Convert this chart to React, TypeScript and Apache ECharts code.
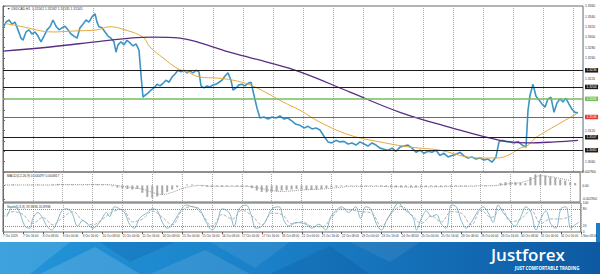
import React, { useEffect, useRef } from "react";
import * as echarts from "echarts";

// ---- x axis tick labels (H1, one label every 20 px / 16 bars) ----
const xLabels = [
  "7 Oct 2019", "7 Oct 16:00", "8 Oct 08:00", "9 Oct 00:00", "9 Oct 16:00",
  "10 Oct 08:00", "11 Oct 00:00", "11 Oct 16:00", "14 Oct 08:00", "15 Oct 00:00",
  "15 Oct 16:00", "16 Oct 08:00", "17 Oct 00:00", "17 Oct 16:00", "18 Oct 08:00",
  "21 Oct 00:00", "21 Oct 16:00", "22 Oct 08:00", "23 Oct 00:00", "23 Oct 16:00",
  "24 Oct 08:00", "25 Oct 00:00", "25 Oct 16:00", "28 Oct 08:00", "29 Oct 00:00",
  "29 Oct 16:00", "30 Oct 08:00", "31 Oct 00:00", "31 Oct 16:00", "1 Nov 08:00",
];

// ---- price (close) ----
const pricePos = [
  0, 3, 6, 9, 12, 15, 18, 20, 23, 26,
  29, 32, 35, 38, 41, 44, 47, 50, 53, 56,
  59, 62, 65, 68, 71, 74, 77, 80, 83, 86,
  89, 92, 94, 96, 99, 102, 105, 108, 111, 113,
  115, 118, 121, 124, 127, 130, 133, 136, 138, 140,
  142, 145, 148, 151, 154, 157, 160, 163, 166, 169,
  172, 175, 178, 181, 184, 187, 190, 193, 196, 198,
  201, 204, 207, 210, 213, 216, 219, 222, 225, 228,
  230, 233, 236, 239, 242, 245, 248, 251, 254, 257,
  261, 265, 269, 273, 277, 281, 285, 289, 293, 297,
  301, 305, 309, 313, 317, 321, 325, 329, 333, 337,
  341, 345, 349, 353, 357, 361, 365, 369, 373, 377,
  381, 385, 389, 393, 397, 401, 405, 409, 413, 417,
  421, 425, 429, 433, 437, 441, 445, 449, 453, 457,
  461, 465, 469, 473, 477, 481, 485, 489, 493, 496,
  499, 503, 507, 511, 515, 519, 523, 525, 527, 530,
  533, 536, 539, 542, 545, 548, 551, 554, 557, 560,
  563, 566, 569, 572, 575,
];
const priceVals = [
  1.3318, 1.3329, 1.3333, 1.3325, 1.3329, 1.3314, 1.3298, 1.3294, 1.3310, 1.3314,
  1.3306, 1.3310, 1.3302, 1.3291, 1.3302, 1.3314, 1.3320, 1.3333, 1.3321, 1.3314,
  1.3318, 1.3321, 1.3314, 1.3306, 1.3302, 1.3298, 1.3318, 1.3325, 1.3333, 1.3329,
  1.3339, 1.3345, 1.3329, 1.3320, 1.3318, 1.3310, 1.3302, 1.3298, 1.3291, 1.3271,
  1.3285, 1.3291, 1.3285, 1.3294, 1.3289, 1.3283, 1.3287, 1.3275, 1.3227, 1.3184,
  1.3188, 1.3192, 1.3198, 1.3202, 1.3209, 1.3206, 1.3211, 1.3217, 1.3213, 1.3223,
  1.3229, 1.3236, 1.3233, 1.3236, 1.3231, 1.3235, 1.3231, 1.3236, 1.3233, 1.3206,
  1.3202, 1.3206, 1.3204, 1.3208, 1.3209, 1.3213, 1.3217, 1.3225, 1.3231, 1.3217,
  1.3198, 1.3202, 1.3208, 1.3209, 1.3206, 1.3211, 1.3213, 1.3188, 1.3163, 1.3144,
  1.3146, 1.3142, 1.3146, 1.3144, 1.3148, 1.3142, 1.3144, 1.3138, 1.3132, 1.3130,
  1.3125, 1.3128, 1.3123, 1.3125, 1.3121, 1.3109, 1.3098, 1.3096, 1.3101, 1.3098,
  1.3099, 1.3094, 1.3096, 1.3092, 1.3098, 1.3094, 1.3090, 1.3096, 1.3092, 1.3086,
  1.3084, 1.3082, 1.3086, 1.3080, 1.3088, 1.3090, 1.3092, 1.3086, 1.3078, 1.3082,
  1.3076, 1.3080, 1.3078, 1.3082, 1.3072, 1.3076, 1.3069, 1.3072, 1.3074, 1.3078,
  1.3071, 1.3067, 1.3069, 1.3065, 1.3067, 1.3063, 1.3065, 1.3059, 1.3069, 1.3098,
  1.3101, 1.3099, 1.3098, 1.3096, 1.3099, 1.3092, 1.3088, 1.3159, 1.3188, 1.3209,
  1.3186, 1.3179, 1.3171, 1.3165, 1.3181, 1.3184, 1.3155, 1.3173, 1.3181, 1.3175,
  1.3182, 1.3171, 1.3161, 1.3155, 1.3154,
];

// ---- moving averages ----
const maFastPos = [0, 17, 50, 72, 94, 107, 122, 140, 147, 160, 174, 184, 197, 214, 230, 247, 264, 280, 297, 317, 347, 377, 407, 437, 464, 480, 494, 507, 517, 524, 532, 540, 557, 575];
const maFastVals = [1.3327, 1.3321, 1.3310, 1.3312, 1.3314, 1.3320, 1.3314, 1.3300, 1.3281, 1.3260, 1.3240, 1.3233, 1.3223, 1.3221, 1.3217, 1.3208, 1.3192, 1.3175, 1.3159, 1.3136, 1.3111, 1.3098, 1.3088, 1.3082, 1.3069, 1.3067, 1.3067, 1.3074, 1.3086, 1.3090, 1.3105, 1.3115, 1.3134, 1.3154];
const maSlowPos = [0, 47, 97, 127, 150, 177, 197, 230, 264, 297, 347, 397, 447, 497, 524, 552, 575];
const maSlowVals = [1.3273, 1.3281, 1.3292, 1.3298, 1.3300, 1.3298, 1.3289, 1.3269, 1.3252, 1.3233, 1.3194, 1.3155, 1.3126, 1.3101, 1.3096, 1.3098, 1.3101];

// ---- horizontal levels ----
const levelVals = [1.3236, 1.3204, 1.3181, 1.3146, 1.3107, 1.3082];
const levelColors = ["#1c1c1c", "#1c1c1c", "#74bd62", "#e03a3a", "#1c1c1c", "#1c1c1c"];
const currentPrice = 1.3154;

// ---- MACD (values in 0.0001) ----
const macdStep = 5;
const macdHist = [
  1, 1, 2, 1, 0, 1, 2, 2, 1, 1, 2,
  3, 3, 2, 2, 1,
  1, 2, 3, 3, 2, 1,
  -2, -5, -7, -8, -9, -8,
  -16, -25, -27, -24, -20, -14, -9,
  -4, 0, 2, 2, 1,
  -2, -3, -3, -2, -3, -2, -1, -2, -3, -2,
  -6, -11, -14, -15, -14, -13, -11, -10, -9, -8,
  -9, -10, -10, -9, -8, -6, -4, -3,
  -2, -2, -1, -1, -2, -2, -1, -1, -2,
  -3, -4, -4, -4, -3, -4, -4, -3, -3, -2,
  -3, -3, -2, -3, -2, -2, -2, -1, -1, -1, -2, -1, -1,
  5, 7, 8, 7, 6, 5,
  18, 24, 23, 21, 19, 16, 13, 10, 7, 5,
];
const signalStep = 10;
const macdSignal = [
  1, 1, 1, 1, 1, 1, 2, 2, 2, 2,
  2, 1, -2, -5, -8, -15, -20, -15, -7, -2,
  0, -2, -2, -2, -2, -3, -7, -11, -13, -12,
  -10, -9, -8, -6, -4, -2, -2, -2, -2, -3,
  -3, -4, -3, -3, -3, -2, -2, -2, -1, -1,
  1, 4, 6, 12, 21, 19, 15, 10,
];
const macdLabelVals = [0.0029, 0, -0.0029];

// ---- Stochastic ----
const stochKPos = [
  4, 10, 15, 22, 27, 30, 35, 40, 44, 49,
  54, 59, 64, 69, 75, 80, 85, 90, 97, 104,
  107, 112, 117, 122, 127, 132, 137, 145, 150, 155,
  160, 165, 170, 177, 184, 190, 197, 204, 210, 215,
  220, 227, 232, 237, 244, 249, 254, 260, 265, 270,
  277, 282, 287, 294, 304, 310, 317, 324, 329, 334,
  340, 347, 354, 359, 364, 369, 375, 380, 385, 392,
  397, 402, 407, 412, 415, 420, 425, 430, 435, 440,
  445, 450, 455, 460, 465, 470, 477, 482, 487, 492,
  497, 502, 507, 514, 519, 525, 530, 535, 540, 545,
  550, 555, 560, 565, 570, 575, 578,
];
const stochKVals = [
  53, 87, 80, 20, 13, 47, 67, 47, 20, 7,
  33, 73, 80, 67, 20, 40, 27, 13, 33, 67,
  53, 87, 80, 67, 27, 13, 47, 67, 80, 73,
  33, 13, 27, 67, 93, 87, 80, 33, 7, 33,
  80, 67, 20, 80, 93, 60, 13, 20, 47, 80,
  87, 40, 20, 33, 27, 13, 27, 7, 53, 73,
  87, 67, 87, 47, 87, 80, 27, 7, 40, 80,
  100, 80, 67, 47, 7, 47, 73, 53, 60, 27,
  13, 93, 87, 40, 13, 33, 73, 87, 67, 33,
  93, 67, 47, 20, 47, 87, 67, 7, 47, 73,
  27, 13, 80, 87, 13, 27, 33,
];
const stochDStep = 10;
const stochDVals = [
  50, 70, 60, 30, 50, 25, 50, 70, 40, 25,
  45, 70, 78, 35, 45, 72, 50, 25, 75, 88,
  60, 20, 60, 45, 75, 55, 25, 65, 60, 28,
  35, 20, 18, 50, 80, 75, 70, 65, 20, 65,
  88, 60, 30, 55, 35, 70, 65, 25, 75, 50,
  80, 35, 45, 75, 30, 45, 45, 55,
];
const stochLabelVals = [100, 80, 20, 0];

const FONT = "'Liberation Sans', Arial, 'DejaVu Sans', sans-serif";
const GRIDLINE = { show: true, lineStyle: { type: "dotted" as const, color: "#a8a8a8", width: 1 } };

function buildOption(): any {
  const zip = (xs: number[], ys: number[], k = 1) => xs.map((x, i) => [x, ys[i] * k]);
  const stepZip = (ys: number[], step: number, k = 1) => ys.map((y, i) => [i * step, y * k]);
  const tiny = { fontFamily: FONT, fontSize: 3.3, color: "#333" };
  const boxed = [...levelVals, currentPrice];
  // like the terminal, a price tick hidden under a level's label box is not printed
  const priceTick = (v: number) => (boxed.some((b) => Math.abs(b - v) < 0.0007) ? "" : v.toFixed(4));

  const gridAxis = (gridIndex: number) => ({
    type: "value", gridIndex, min: 0, max: 580, interval: 30, position: "top",
    axisLabel: { show: false }, axisTick: { show: false }, axisLine: { show: false },
    splitLine: GRIDLINE,
  });

  const levelLabel = (color: string, v: number) => ({
    show: true, position: "end", distance: 2, formatter: v.toFixed(4),
    backgroundColor: color, color: "#fff", fontFamily: FONT, fontSize: 3.3, padding: [1, 1.5, 0.5, 1.5],
  });

  return {
    animation: false,
    backgroundColor: "#ffffff",
    grid: [
      { left: 3, right: 17, top: 6, height: 166, show: true, borderColor: "#6a6a6a", borderWidth: 1, backgroundColor: "transparent" },
      { left: 3, right: 17, top: 172, height: 30, show: true, borderColor: "#6a6a6a", borderWidth: 1, backgroundColor: "transparent" },
      { left: 3, right: 17, top: 203, height: 29, show: true, borderColor: "#6a6a6a", borderWidth: 1, backgroundColor: "transparent" },
    ],
    xAxis: [
      gridAxis(0),
      gridAxis(1),
      gridAxis(2),
      {
        type: "value", gridIndex: 2, min: 0, max: 580, interval: 20, position: "bottom",
        axisLine: { show: false },
        axisTick: { show: true, length: 2, lineStyle: { color: "#555" } },
        splitLine: { show: false },
        axisLabel: {
          ...tiny, fontSize: 3, align: "left", margin: 2, showMinLabel: true, showMaxLabel: true,
          formatter: (v: number) => xLabels[Math.round(v / 20)] ?? "",
        },
      },
    ],
    yAxis: [
      {
        type: "value", gridIndex: 0, position: "right", min: 1.304, max: 1.336, interval: 0.002,
        axisLine: { show: true, lineStyle: { color: "#6a6a6a" } },
        axisTick: { show: true, length: 2, lineStyle: { color: "#6a6a6a" } },
        splitLine: { show: false },
        axisLabel: { ...tiny, margin: 2, showMinLabel: false, formatter: priceTick },
      },
      {
        type: "value", gridIndex: 1, position: "right", min: -0.0036, max: 0.0029,
        axisLine: { show: true, lineStyle: { color: "#6a6a6a" } },
        axisTick: { show: true, length: 2, customValues: macdLabelVals, lineStyle: { color: "#6a6a6a" } },
        splitLine: { show: false },
        axisLabel: {
          ...tiny, margin: 2, customValues: macdLabelVals,
          formatter: (v: number) => (Math.abs(v) < 1e-9 ? "0.00" : v.toFixed(6)),
        },
      },
      {
        type: "value", gridIndex: 2, position: "right", min: 0, max: 100,
        axisLine: { show: true, lineStyle: { color: "#6a6a6a" } },
        axisTick: { show: false },
        splitLine: { show: false },
        axisLabel: { ...tiny, margin: 2, customValues: stochLabelVals, formatter: (v: number) => String(v) },
      },
    ],
    series: [
      {
        name: "USDCAD", type: "line", xAxisIndex: 0, yAxisIndex: 0, data: zip(pricePos, priceVals),
        symbol: "none", lineStyle: { color: "#3d94c4", width: 1.6 }, z: 3,
        markLine: {
          silent: true, symbol: ["none", "none"], animation: false, precision: 4,
          data: [
            ...levelVals.map((v, i) => ({
              yAxis: v,
              lineStyle: { color: levelColors[i], width: i === 2 ? 1.6 : 1.2, type: "solid" },
              label: levelLabel(levelColors[i], v),
            })),
            { yAxis: currentPrice, lineStyle: { opacity: 0, width: 0 }, label: levelLabel("#111111", currentPrice) },
          ],
        },
      },
      {
        name: "MA fast", type: "line", xAxisIndex: 0, yAxisIndex: 0, data: zip(maFastPos, maFastVals),
        symbol: "none", smooth: 0.4, lineStyle: { color: "#e3a93e", width: 1 }, z: 4,
      },
      {
        name: "MA slow", type: "line", xAxisIndex: 0, yAxisIndex: 0, data: zip(maSlowPos, maSlowVals),
        symbol: "none", smooth: 0.4, lineStyle: { color: "#5a2d84", width: 1.3 }, z: 4,
      },
      {
        name: "MACD", type: "bar", xAxisIndex: 1, yAxisIndex: 1, data: stepZip(macdHist, macdStep, 0.0001),
        barWidth: 2, itemStyle: { color: "#a9a9a9" },
      },
      {
        name: "Signal", type: "line", xAxisIndex: 1, yAxisIndex: 1, data: stepZip(macdSignal, signalStep, 0.0001),
        symbol: "none", smooth: 0.4, lineStyle: { color: "#9a9a9a", width: 1, type: "dotted" },
      },
      {
        name: "%K", type: "line", xAxisIndex: 2, yAxisIndex: 2, data: zip(stochKPos, stochKVals),
        symbol: "none", smooth: 0.35, lineStyle: { color: "#86b7c9", width: 1 },
        markLine: {
          silent: true, symbol: ["none", "none"], animation: false, label: { show: false },
          lineStyle: { color: "#8a8a8a", type: "dotted", width: 1 },
          data: [{ yAxis: 80 }, { yAxis: 20 }],
        },
      },
      {
        name: "%D", type: "line", xAxisIndex: 2, yAxisIndex: 2, data: stepZip(stochDVals, stochDStep),
        symbol: "none", smooth: 0.4, lineStyle: { color: "#a0a0a0", width: 0.8, type: "dashed" },
      },
    ],
    graphic: [
      { type: "text", x: 7, y: 7, style: { text: "\u25BC USDCAD,H1  1.31562 1.31582 1.31535 1.31545", fill: "#333", fontFamily: FONT, fontSize: 3.3, verticalAlign: "top" } },
      { type: "text", x: 7, y: 174, style: { text: "MACD(12,26,9) 0.000497 0.000817", fill: "#333", fontFamily: FONT, fontSize: 3.3, verticalAlign: "top" } },
      { type: "text", x: 7, y: 205, style: { text: "Stoch(5,3,3) 19.3836 20.8936", fill: "#333", fontFamily: FONT, fontSize: 3.3, verticalAlign: "top" } },
      // banner
      {
        type: "rect", shape: { x: 0, y: 242, width: 600, height: 32 },
        style: {
          fill: new echarts.graphic.LinearGradient(0, 0, 1, 0, [
            { offset: 0, color: "#2396da" },
            { offset: 0.45, color: "#1a80c8" },
            { offset: 1, color: "#0d5aa2" },
          ]),
        },
      },
      { type: "polygon", shape: { points: [[0, 242], [70, 242], [30, 274], [0, 274]] }, style: { fill: "rgba(255,255,255,0.12)" } },
      { type: "polygon", shape: { points: [[40, 274], [95, 247], [140, 274]] }, style: { fill: "rgba(255,255,255,0.14)" } },
      { type: "polygon", shape: { points: [[100, 242], [175, 242], [130, 262]] }, style: { fill: "rgba(0,50,120,0.14)" } },
      { type: "polygon", shape: { points: [[150, 274], [205, 250], [250, 274]] }, style: { fill: "rgba(255,255,255,0.10)" } },
      { type: "polygon", shape: { points: [[210, 242], [290, 242], [255, 268]] }, style: { fill: "rgba(255,255,255,0.08)" } },
      { type: "polygon", shape: { points: [[270, 274], [330, 246], [370, 274]] }, style: { fill: "rgba(0,40,110,0.12)" } },
      { type: "polygon", shape: { points: [[350, 242], [420, 242], [390, 262]] }, style: { fill: "rgba(255,255,255,0.07)" } },
      { type: "rect", shape: { x: 596, y: 223, width: 4, height: 19 }, style: { fill: "#1c7fc6" } },
      { type: "text", x: 491, y: 246, style: { text: "Justforex", fill: "#ffffff", fontFamily: "'Open Sans', 'Noto Sans', sans-serif", fontWeight: 600, fontSize: 17, verticalAlign: "top" } },
      { type: "text", x: 547, y: 265.5, style: { text: "JUST COMFORTABLE TRADING", fill: "#ffffff", fontFamily: "'Open Sans', 'Noto Sans', sans-serif", fontWeight: 700, fontSize: 4.4, align: "center", verticalAlign: "top" } },
    ],
  };
}

export default function App() {
  const ref = useRef<HTMLDivElement>(null);
  useEffect(() => {
    if (!ref.current) return;
    const chart = echarts.init(ref.current, null, { renderer: "svg" });
    chart.setOption(buildOption());
    return () => chart.dispose();
  }, []);
  return (
    <div
      ref={ref}
      style={{ position: "fixed", left: 0, top: 0, width: 600, height: 274, background: "#ffffff" }}
    />
  );
}
